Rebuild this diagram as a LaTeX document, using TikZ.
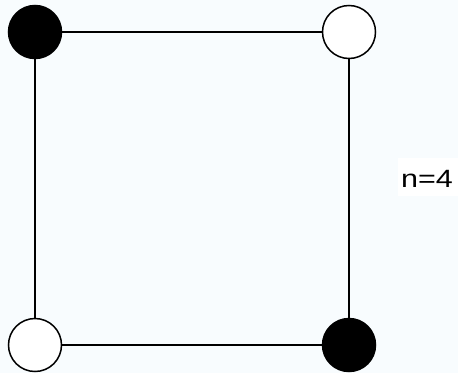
\documentclass[tikz,border=0pt]{standalone}
\usepackage{fontspec}
\setmainfont{Liberation Sans}
\newfontfamily\labfont[FakeStretch=1.22]{Liberation Sans}
\definecolor{bgc}{RGB}{248,252,254}
\begin{document}
\begin{tikzpicture}[x=1bp,y=1bp,
  vtx/.style={circle,draw=black,line width=1.5bp,minimum size=53bp,inner sep=0pt},
  blackv/.style={vtx,fill=black},
  whitev/.style={vtx,fill=white},
  edge/.style={line width=1.5bp,draw=black}]
\fill[bgc] (0,0) rectangle (458,373);
\useasboundingbox (0,0) rectangle (458,373);
\fill[white] (398,177) rectangle (458,215);
\node[blackv] (tl) at (35,341) {};
\node[whitev] (tr) at (349,341) {};
\node[whitev] (bl) at (35,28) {};
\node[blackv] (br) at (349,28) {};
\draw[edge] (tl) -- (tr);
\draw[edge] (tr) -- (br);
\draw[edge] (br) -- (bl);
\draw[edge] (bl) -- (tl);
\node[anchor=base west,inner sep=0pt,font=\labfont\fontsize{25bp}{30bp}\selectfont] (lab) at (401,186) {n=4};
\end{tikzpicture}
\end{document}
